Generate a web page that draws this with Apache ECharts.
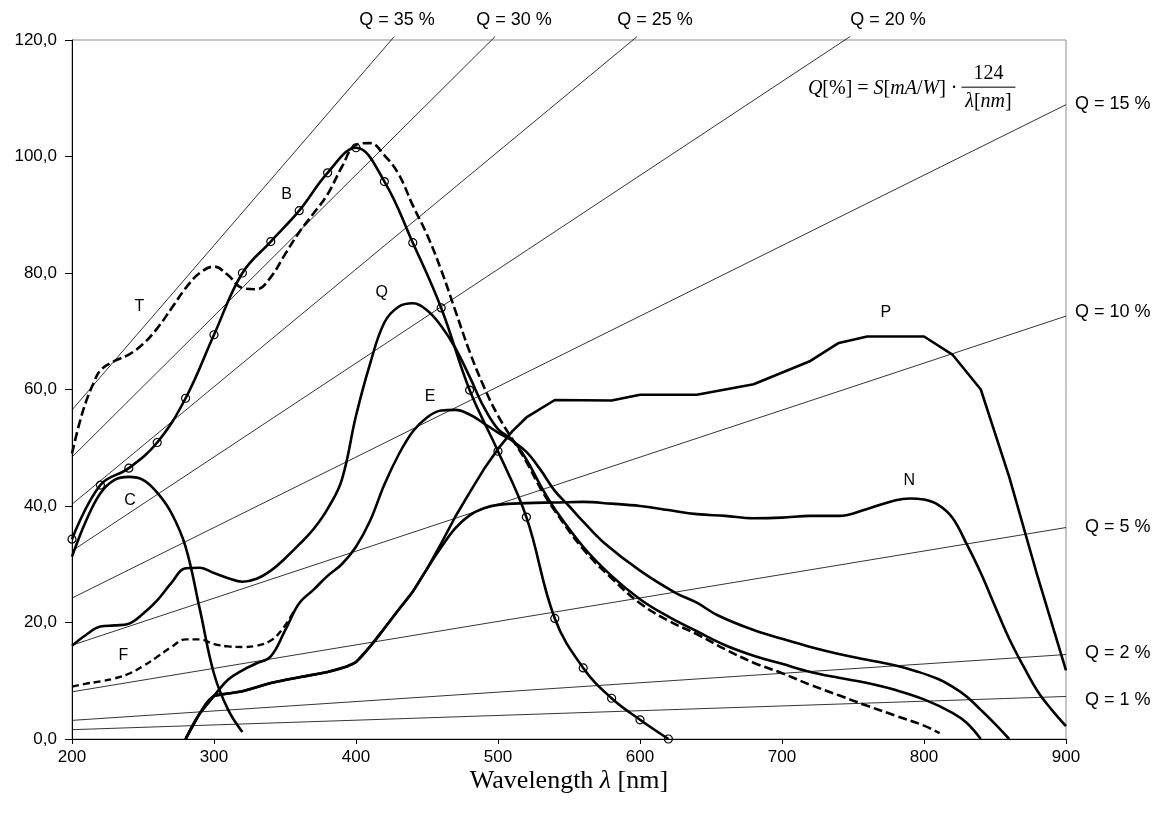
<!DOCTYPE html>
<html>
<head>
<meta charset="utf-8">
<title>Spectral response</title>
<script src="https://cdn.jsdelivr.net/npm/echarts@6/dist/echarts.min.js"></script>
<style>
  html, body { margin: 0; padding: 0; background: #fff; }
  #chart-container { width: 1162px; height: 819px; }
</style>
</head>
<body>
<div id="chart-container"></div>
<script>
  // curves, [wavelength nm, S mA/W]
  var curveT = [[200,49.0],[205,54.0],[210,58.0],[215,61.0],[220,63.3],[230,64.9],[240,66.0],[250,67.8],[260,70.5],[270,73.9],[280,77.4],[290,80.0],[300,81.1],[310,79.6],[320,77.4],[330,77.2],[340,79.3],[350,83.2],[360,87.0],[370,90.2],[380,93.5],[390,98.2],[400,102.0],[410,102.3],[420,100.2],[430,97.0],[440,91.6],[450,86.6],[460,80.5],[470,73.5],[480,66.5],[490,60.5],[500,55.5],[510,51.5],[520,47.6],[530,43.0],[540,39.2],[560,32.6],[580,27.6],[600,23.3],[620,20.3],[640,18.0],[660,15.4],[680,13.1],[700,11.3],[720,9.3],[740,7.5],[760,5.7],[780,4.0],[800,2.3],[811,1.0]];
  var curveB = [[200,34.3],[220,43.6],[240,46.5],[260,50.9],[280,58.5],[300,69.4],[320,80.0],[340,85.4],[360,90.7],[380,97.2],[400,101.5],[420,95.7],[440,85.2],[460,74.0],[480,59.9],[500,49.4],[520,38.1],[540,20.7],[560,12.2],[580,7.0],[600,3.3],[620,0]];
  var curveC = [[200,31.3],[210,37.5],[220,42.2],[230,44.5],[240,45.0],[250,44.5],[260,42.3],[270,38.8],[280,33.0],[290,22.3],[300,11.2],[310,5.0],[320,1.2]];
  var curveQ = [[200,16.0],[210,17.9],[220,19.3],[230,19.5],[240,19.8],[250,21.5],[260,23.8],[270,26.8],[280,29.3],[290,29.4],[300,28.5],[310,27.6],[320,27.0],[330,27.5],[340,28.9],[350,31.0],[360,33.4],[370,36.0],[380,39.5],[390,44.5],[400,55.5],[410,64.5],[420,71.5],[430,74.2],[440,74.8],[450,73.6],[460,70.9],[470,67.1],[480,62.2],[490,57.0],[500,53.2],[510,51.4],[520,48.0],[530,43.5],[540,39.5],[560,33.0],[580,28.0],[600,24.0],[620,21.0],[640,18.5],[660,16.1],[680,14.3],[700,12.9],[720,11.5],[740,10.5],[760,9.6],[780,8.4],[800,6.8],[820,4.5],[830,2.8],[840,0]];
  var curveE = [[280,0],[290,4.4],[300,7.4],[310,10.2],[320,11.8],[330,13.0],[340,14.2],[350,18.6],[360,23.3],[370,25.6],[380,28.0],[390,30.0],[400,33.0],[410,37.5],[420,43.7],[430,48.8],[440,52.8],[450,55.2],[460,56.4],[470,56.5],[480,55.7],[490,54.2],[500,52.6],[510,51.2],[520,49.3],[530,46.2],[540,42.6],[550,40.0],[560,37.3],[575,33.6],[600,28.9],[625,25.1],[640,23.4],[655,21.2],[680,18.7],[700,17.2],[720,15.8],[740,14.6],[760,13.6],[780,12.6],[795,11.6],[810,10.3],[820,9.0],[830,7.3],[840,5.0],[850,2.6],[860,0]];
  var curveF = [[200,9.0],[210,9.5],[220,9.9],[230,10.4],[240,11.2],[250,12.5],[260,14.1],[270,15.8],[280,17.1],[290,17.1],[300,16.3],[310,15.9],[320,15.8],[330,16.0],[340,16.9],[348,18.8],[356,21.8]];
  var curveN = [[280,0],[290,4.4],[300,7.4],[310,7.8],[320,8.2],[340,9.6],[360,10.6],[380,11.5],[393,12.4],[400,13.2],[410,15.9],[420,19.0],[430,22.2],[440,25.3],[450,29.2],[460,32.9],[470,36.2],[480,38.4],[490,39.6],[500,40.2],[520,40.5],[540,40.6],[560,40.7],[580,40.4],[600,40.0],[620,39.3],[640,38.6],[660,38.3],[680,37.9],[700,38.0],[720,38.3],[740,38.3],[760,39.5],[780,41.0],[790,41.3],[800,41.1],[810,40.2],[820,38.0],[830,33.5],[840,28.5],[850,22.8],[860,17.2],[870,12.5],[880,8.2],[890,5.0],[900,2.2]];
  var curveP = [[280,0],[290,4.4],[300,7.4],[310,7.8],[320,8.2],[340,9.6],[360,10.6],[380,11.5],[393,12.4],[400,13.2],[410,15.9],[420,19.0],[430,22.2],[440,25.3],[450,29.2],[460,33.6],[470,38.2],[480,42.3],[490,46.3],[500,49.8],[510,52.8],[520,55.2],[540,58.2],[580,58.1],[600,59.1],[640,59.1],[680,60.9],[720,64.9],[740,68.0],[760,69.1],[800,69.1],[820,66.0],[840,60.0],[860,45.0],[880,27.9],[900,11.8]];

  // constant quantum efficiency lines
  var qLabels = ['Q = 35 %', 'Q = 30 %', 'Q = 25 %', 'Q = 20 %', 'Q = 15 %', 'Q = 10 %', 'Q = 5 %', 'Q = 2 %', 'Q = 1 %'];
  var qStartVal = [56.5, 48.4, 40.3, 32.3, 24.2, 16.1, 8.1, 3.2, 1.6];
  var qEndWave = [427, 498, 598, 748, 900, 900, 900, 900, 900];
  var qEndVal = [120.6, 120.6, 120.6, 120.6, 108.9, 72.6, 36.3, 14.5, 7.3];
  var qLabelWave = [428.9, 511.3, 610.6, 774.6, 906.3, 906.3, 913.4, 913.4, 913.4];
  var qLabelVal = [123.4, 123.4, 123.4, 123.4, 109.0, 73.3, 36.4, 14.8, 6.7];

  // curve letters
  var curveNames = ['T', 'B', 'Q', 'E', 'C', 'F', 'P', 'N'];
  var nameWave = [247.4, 351.2, 418.1, 452.1, 240.8, 236.1, 773.2, 789.6];
  var nameVal = [74.2, 93.4, 76.7, 58.7, 41.0, 14.4, 73.2, 44.4];

  var dom = document.getElementById('chart-container');
  var myChart = echarts.init(dom, null, { renderer: 'canvas' });

  var series = [];
  qLabels.forEach(function (lbl, i) {
    series.push({
      name: lbl,
      type: 'line',
      data: [[200, qStartVal[i]], [qEndWave[i], qEndVal[i]]],
      symbol: 'none',
      clip: false,
      silent: true,
      lineStyle: { color: '#000', width: 0.8 }
    });
  });

  function curve(name, data, opts) {
    var s = {
      name: name,
      type: 'line',
      data: data,
      smooth: 0.4,
      symbol: 'none',
      silent: true,
      lineStyle: { color: '#000', width: 2.6 }
    };
    return Object.assign(s, opts || {});
  }

  series.push(curve('T', curveT, { lineStyle: { color: '#000', width: 2.6, type: [9, 4] } }));
  series.push(curve('C', curveC));
  series.push(curve('Q', curveQ));
  series.push(curve('E', curveE));
  series.push(curve('F', curveF, { lineStyle: { color: '#000', width: 2.4, type: [7, 4] } }));
  series.push(curve('N', curveN));
  series.push(curve('P', curveP, { smooth: false }));
  series.push(curve('B', curveB, {
    symbol: 'circle',
    symbolSize: 8,
    showSymbol: true,
    itemStyle: { color: 'rgba(255,255,255,0)', borderColor: '#000', borderWidth: 1.2 }
  }));

  var option = {
    animation: false,
    backgroundColor: '#fff',
    grid: { left: 72, right: 96, top: 40, bottom: 80, show: true, borderColor: '#8c8c8c', borderWidth: 1 },
    xAxis: {
      type: 'value',
      min: 200,
      max: 900,
      interval: 100,
      axisLine: { show: true, onZero: false, lineStyle: { color: '#000', width: 1 } },
      axisTick: { show: true, length: 5, lineStyle: { color: '#000' } },
      axisLabel: { color: '#000', fontSize: 17, fontFamily: 'Liberation Sans', margin: 10 },
      splitLine: { show: false },
      name: '{a|Wavelength }{b|λ}{a| [nm]}',
      nameLocation: 'middle',
      nameGap: 29,
      nameMoveOverlap: false,
      nameTextStyle: {
        rich: {
          a: { fontFamily: 'Liberation Serif', fontSize: 26, color: '#000' },
          b: { fontFamily: 'Liberation Serif', fontSize: 26, fontStyle: 'italic', color: '#000' }
        }
      }
    },
    yAxis: {
      type: 'value',
      min: 0,
      max: 120,
      interval: 20,
      axisLine: { show: true, onZero: false, lineStyle: { color: '#000', width: 1 } },
      axisTick: { show: true, length: 7, lineStyle: { color: '#000' } },
      axisLabel: {
        color: '#000', fontSize: 17, fontFamily: 'Liberation Sans', margin: 15,
        formatter: function (v) { return v.toFixed(1).replace('.', ','); }
      },
      splitLine: { show: false }
    },
    series: series
  };
  myChart.setOption(option);

  // text annotations placed through the axes
  function px(w, v) { return myChart.convertToPixel({ gridIndex: 0 }, [w, v]); }
  var sans = 'Liberation Sans';
  var serif = 'Liberation Serif';
  var graphics = [];

  qLabels.forEach(function (lbl, i) {
    var p = px(qLabelWave[i], qLabelVal[i]);
    graphics.push({
      type: 'text', x: p[0], y: p[1], silent: true,
      style: { text: lbl, fill: '#000', fontSize: 18, fontFamily: sans, align: i < 4 ? 'center' : 'left', verticalAlign: 'middle' }
    });
  });

  curveNames.forEach(function (n, i) {
    var p = px(nameWave[i], nameVal[i]);
    graphics.push({
      type: 'text', x: p[0], y: p[1], silent: true,
      style: { text: n, fill: '#000', fontSize: 16, fontFamily: sans, align: 'center', verticalAlign: 'middle' }
    });
  });

  // formula Q[%] = S[mA/W] * 124 / lambda[nm]
  var fc = px(845.4, 111.9);
  var it = { fontStyle: 'italic', fontSize: 20, fontFamily: serif, fill: '#000' };
  var up = { fontSize: 20, fontFamily: serif, fill: '#000' };
  graphics.push({
    type: 'text', x: fc[0] - 31, y: fc[1] + 2, silent: true,
    style: {
      text: '{i|Q}{u|[%] = }{i|S}{u|[}{i|mA}{u|/}{i|W}{u|] ·}',
      rich: { i: it, u: up },
      align: 'right', verticalAlign: 'middle'
    }
  });
  graphics.push({
    type: 'line', silent: true,
    shape: { x1: fc[0] - 27, y1: fc[1], x2: fc[0] + 27, y2: fc[1] },
    style: { stroke: '#000', lineWidth: 1 }
  });
  graphics.push({
    type: 'text', x: fc[0], y: fc[1] - 13, silent: true,
    style: { text: '124', fill: '#000', fontSize: 20, fontFamily: serif, align: 'center', verticalAlign: 'middle' }
  });
  graphics.push({
    type: 'text', x: fc[0], y: fc[1] + 15, silent: true,
    style: {
      text: '{i|λ}{u|[}{i|nm}{u|]}',
      rich: { i: it, u: up },
      align: 'center', verticalAlign: 'middle'
    }
  });

  myChart.setOption({ graphic: graphics });

  window.addEventListener('resize', function () {
    myChart.resize();
  });
</script>
</body>
</html>
